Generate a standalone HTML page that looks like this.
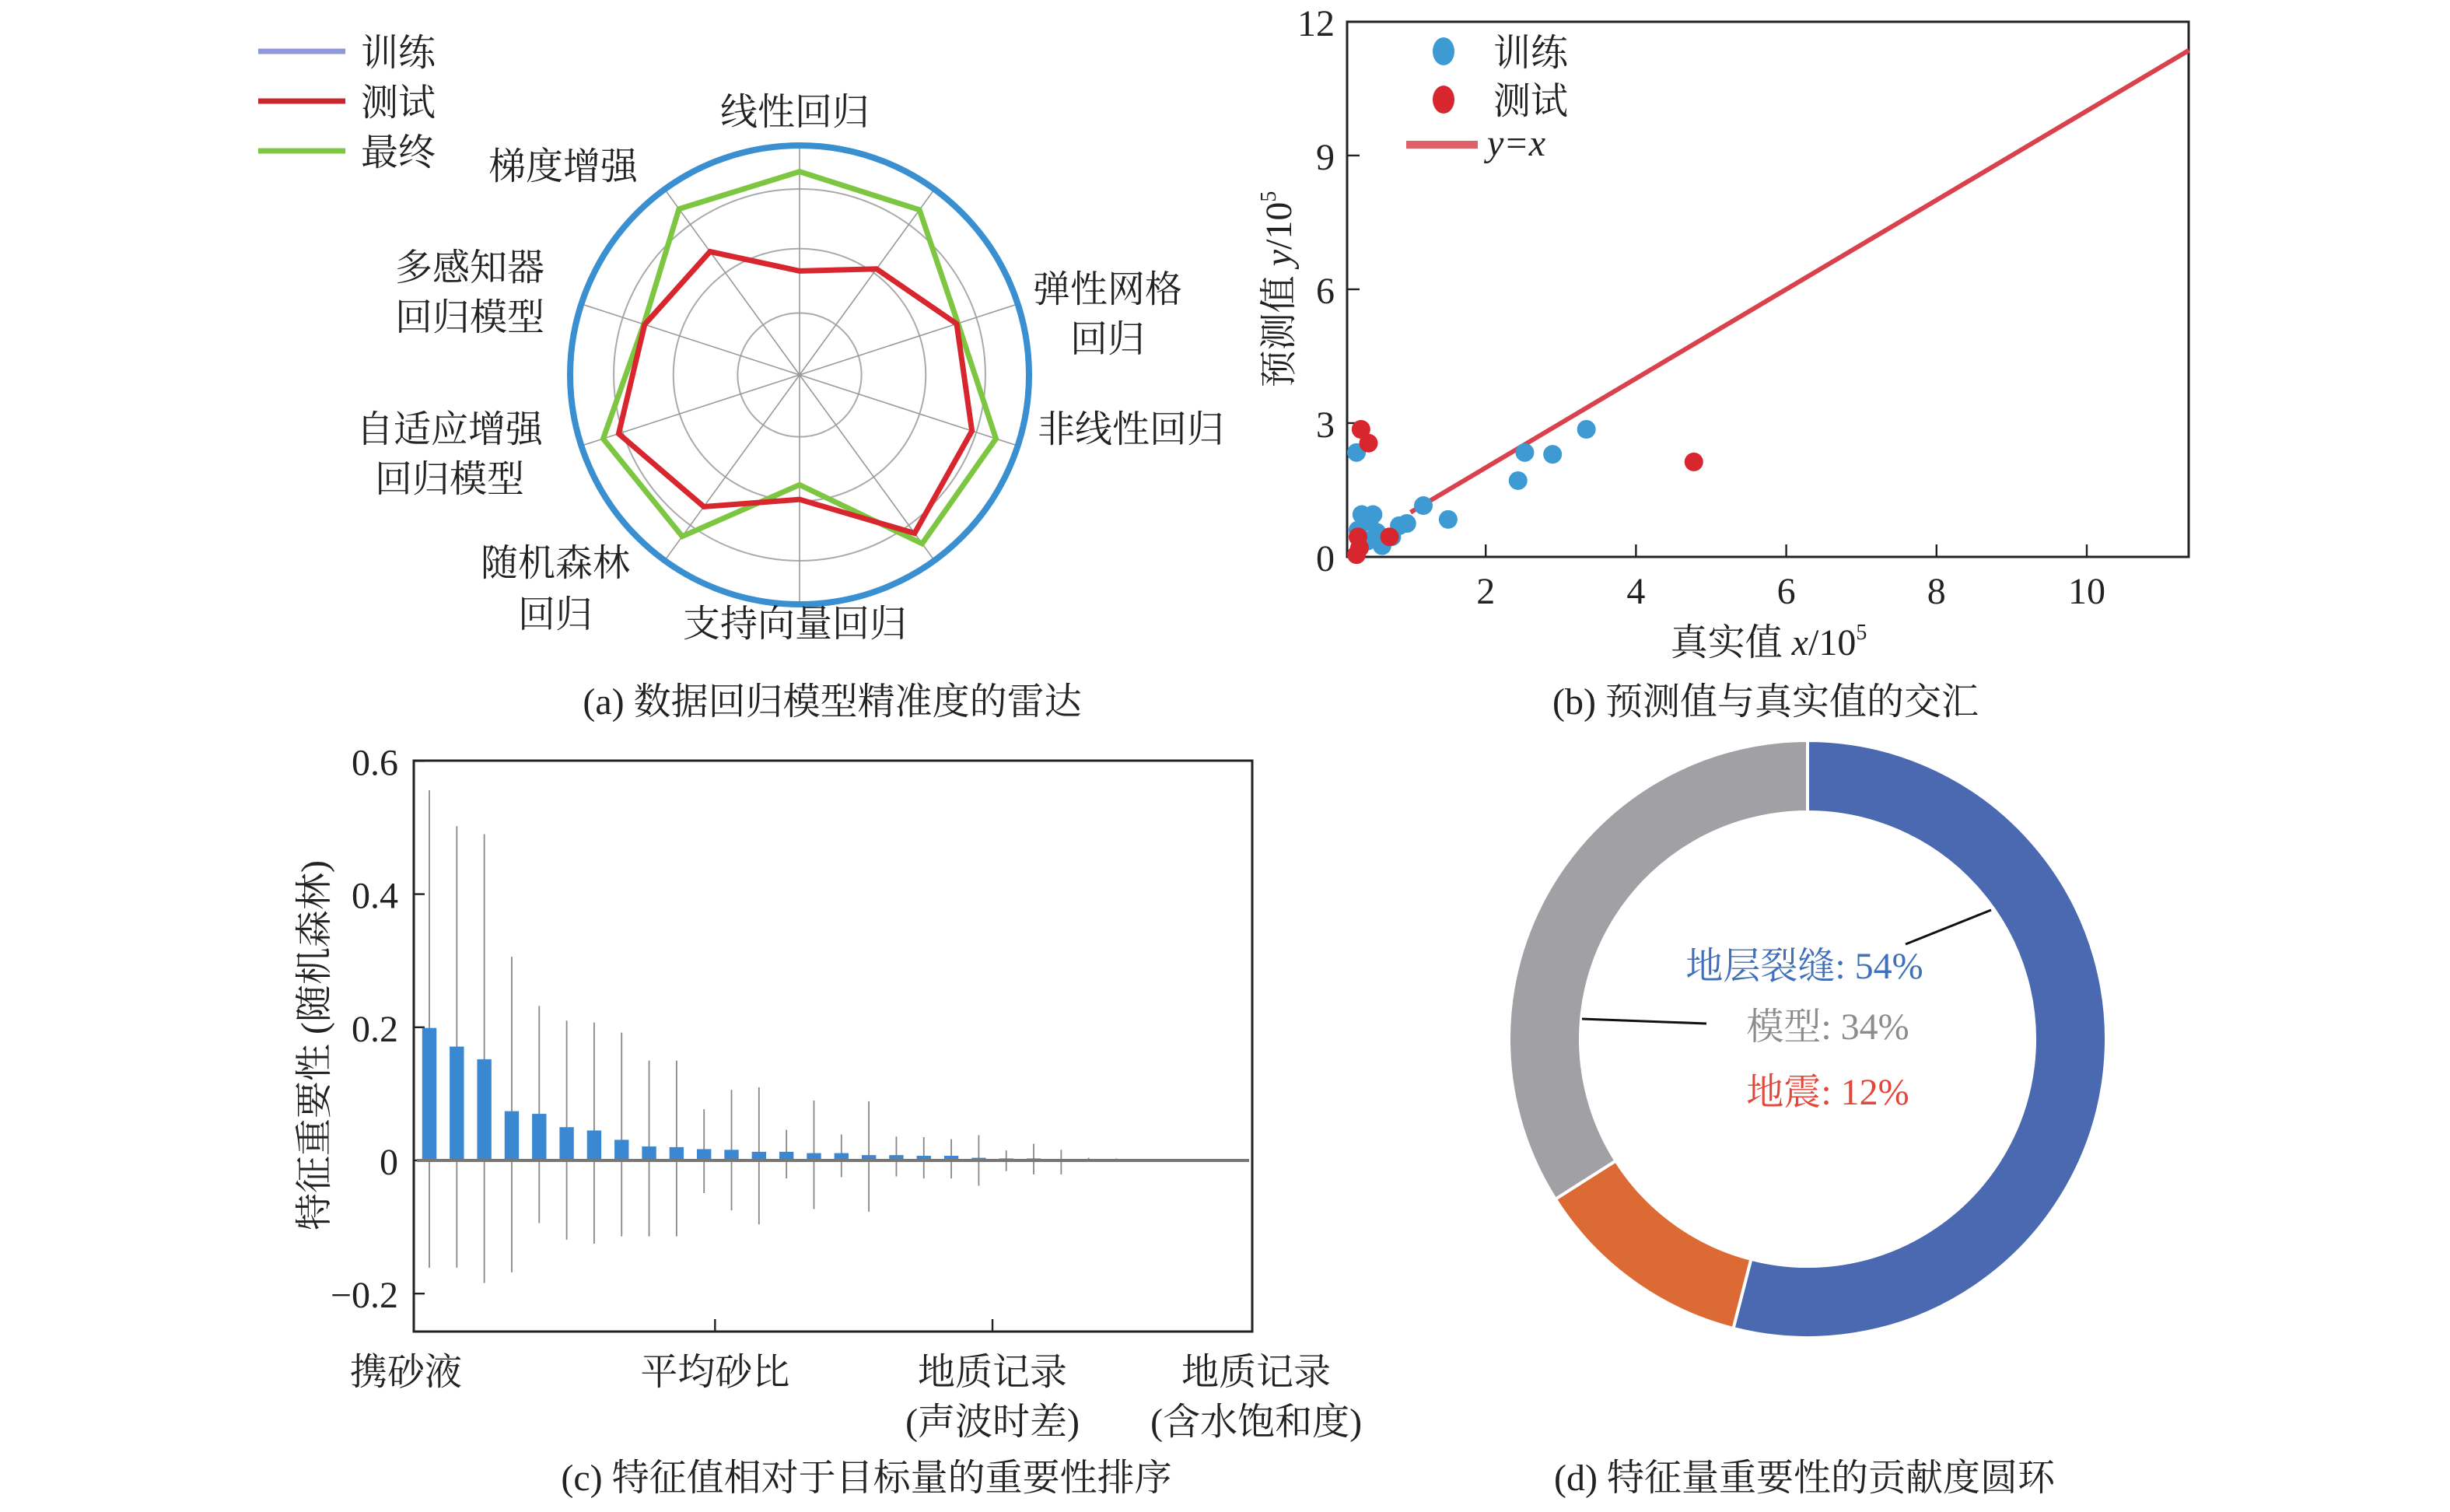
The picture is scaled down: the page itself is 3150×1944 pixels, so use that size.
<!DOCTYPE html>
<html><head><meta charset="utf-8">
<style>
html,body{margin:0;padding:0;background:#fff;}
svg{display:block;}
text{font-family:"Liberation Serif","Noto Serif CJK SC","Noto Sans CJK SC",serif;fill:#222;}
</style></head>
<body>
<svg id="fig" xmlns="http://www.w3.org/2000/svg" width="3150" height="1944" viewBox="0 0 1575 972">
<g id="pa"></g>
<g id="pb"></g>
<g id="pc"></g>
<g id="pd"></g>
</svg>
<script>
// ---------- data ----------
const radarTrain = [1,1,1,1,1,1,1,1,1,1];
const radarTest = [0.453,0.571,0.72,0.79,0.853,0.543,0.71,0.829,0.71,0.664];
const radarFinal = [0.886,0.889,0.726,0.90,0.909,0.479,0.87,0.90,0.714,0.894];

const trainX = [3.34,2.52,2.89,2.43,1.17,1.5,0.28,0.35,0.45,0.55,0.42,0.75,0.85,0.62,0.3,0.5,0.95];
const trainY = [2.86,2.34,2.3,1.71,1.15,0.84,2.34,0.95,0.8,0.55,0.35,0.45,0.7,0.25,0.6,0.95,0.75];
const testX = [0.34,0.44,4.77,0.72,0.3,0.32,0.28];
const testY = [2.86,2.55,2.13,0.45,0.45,0.2,0.05];

const barValues = [0.199,0.171,0.152,0.074,0.07,0.05,0.045,0.031,0.021,0.02,0.017,0.016,0.013,0.013,0.011,0.011,0.008,0.008,0.007,0.007,0.004,0.003,0.003,0.001,0.0005,0.0003,0.0002,0.0002,0.0001,0.0001];
const errUp = [0.556,0.502,0.49,0.306,0.232,0.21,0.207,0.192,0.15,0.15,0.077,0.106,0.11,0.046,0.09,0.039,0.089,0.036,0.035,0.032,0.038,0.015,0.025,0.016,0.004,0.003,0.002,0.002,0.001,0.001];
const errDown = [-0.161,-0.161,-0.184,-0.168,-0.094,-0.119,-0.125,-0.114,-0.114,-0.114,-0.049,-0.075,-0.096,-0.027,-0.073,-0.025,-0.077,-0.024,-0.027,-0.027,-0.038,-0.016,-0.021,-0.021,0,0,0,0,0,0];
const barTickLabels = [["携砂液"],["平均砂比"],["地质记录","(声波时差)"],["地质记录","(含水饱和度)"]];
const barTickIdx = [-0.85,10.4,20.5,30.1];

const donutLabels = ["地层裂缝","地震","模型"];
const donutValues = [54,12,34];

// ---------- helpers ----------
const NS="http://www.w3.org/2000/svg";
function mk(parent,tag,attrs,txt){const e=document.createElementNS(NS,tag);for(const k in attrs)e.setAttribute(k,attrs[k]);if(txt!==undefined)e.textContent=txt;parent.appendChild(e);return e;}

// ---------- (a) radar ----------
const pa=document.getElementById('pa');
const RCX=514,RCY=241,RR=147.5;
function rpt(i,v){const a=i*Math.PI*2/10;return [RCX+Math.sin(a)*v*RR,RCY-Math.cos(a)*v*RR];}
[0.27,0.55,0.81].forEach(f=>{const c=mk(pa,'circle',{cx:RCX,cy:RCY,r:f*RR,fill:'none',stroke:'#aaa','stroke-width':1});

});
for(let i=0;i<10;i++){const p=rpt(i,1);const l=mk(pa,'line',{x1:RCX,y1:RCY,x2:p[0],y2:p[1],stroke:'#999','stroke-width':0.8});

}
function poly(vals,color,w,name){const pts=vals.map((v,i)=>rpt(i,v).join(',')).join(' ');
const e=mk(pa,'polygon',{points:pts,fill:'none',stroke:color,'stroke-width':w,'stroke-linejoin':'miter'});

}
// training series: all equal values -> drawn as a circle of radius value*RR
const trainCircle=mk(pa,'circle',{cx:RCX,cy:RCY,r:radarTrain[0]*RR,fill:'none',stroke:'#3a8fd1','stroke-width':4});


poly(radarFinal,'#7dc642',3.5,'radar-final-series');
poly(radarTest,'#d8262f',3.5,'radar-test-series');
const radarLabels=[["线性回归",511,80],["梯度增强",362,115],["弹性网格",712,194],["回归",712,226],["非线性回归",727,284],["多感知器",302,180],["回归模型",302,212],["自适应增强",289,284],["回归模型",289,316],["随机森林",357,370],["回归",357,403],["支持向量回归",511,409]];
radarLabels.forEach(d=>{const t=mk(pa,'text',{x:d[1],y:d[2],'font-size':24,'text-anchor':'middle'},d[0]);

});
const leg=[["训练","#8f98dc",33],["测试","#c8252d",65],["最终","#7dc642",97]];
leg.forEach(d=>{const g=mk(pa,'g',{});


mk(g,'line',{x1:166,y1:d[2],x2:222,y2:d[2],stroke:d[1],'stroke-width':3.5});
mk(g,'text',{x:232,y:d[2]+9,'font-size':24},d[0]);});
const ca=mk(pa,'text',{x:535,y:459,'font-size':24,'text-anchor':'middle'},"(a) 数据回归模型精准度的雷达");



// ---------- (b) scatter ----------
const pb=document.getElementById('pb');
const BX0=866,BX1=1407,BY0=14,BY1=358;
function sx(v){return 858.5+v*48.3;}
function sy(v){return 358-v*28.67;}
const box=mk(pb,'rect',{x:BX0,y:BY0,width:BX1-BX0,height:BY1-BY0,fill:'none',stroke:'#222','stroke-width':1.5});


[2,4,6,8,10].forEach(v=>{mk(pb,'line',{x1:sx(v),y1:BY1,x2:sx(v),y2:BY1-8,stroke:'#222','stroke-width':1.2});
const t=mk(pb,'text',{x:sx(v),y:BY1+30,'font-size':24,'text-anchor':'middle'},String(v));

});
[0,3,6,9,12].forEach(v=>{mk(pb,'line',{x1:BX0,y1:sy(v),x2:BX0+8,y2:sy(v),stroke:'#222','stroke-width':1.2});
const t=mk(pb,'text',{x:BX0-8,y:sy(v)+9,'font-size':24,'text-anchor':'end'},String(v));

});
const fit=mk(pb,'line',{x1:sx(1),y1:sy(1),x2:sx(11.36),y2:sy(11.36),stroke:'#d9424c','stroke-width':3});


trainX.forEach((x,i)=>{const c=mk(pb,'circle',{cx:sx(x),cy:sy(trainY[i]),r:6,fill:'#3e9ad3'});

});
testX.forEach((x,i)=>{const c=mk(pb,'circle',{cx:sx(x),cy:sy(testY[i]),r:6,fill:'#d8262f'});

});
[["训练",'#3e9ad3',33],["测试",'#d8262f',64]].forEach(d=>{const g=mk(pb,'g',{});


mk(g,'ellipse',{cx:928,cy:d[2],rx:7,ry:9,fill:d[1]});
mk(g,'text',{x:960,y:d[2]+9,'font-size':24},d[0]);});
const lg3=mk(pb,'g',{});


mk(lg3,'line',{x1:904,y1:93,x2:950,y2:93,stroke:'#e0606a','stroke-width':5});
mk(lg3,'text',{x:956,y:100,'font-size':24,'font-style':'italic'},"y=x");
const xl=mk(pb,'text',{x:1137,y:421,'font-size':24,'text-anchor':'middle'});


xl.innerHTML='真实值 <tspan font-style="italic">x</tspan>/10<tspan font-size="14" dy="-10">5</tspan>';
const yl=mk(pb,'text',{x:0,y:0,'font-size':24,'text-anchor':'middle',transform:'translate(830,186) rotate(-90)'});


yl.innerHTML='预测值 <tspan font-style="italic">y</tspan>/10<tspan font-size="14" dy="-10">5</tspan>';
const cb=mk(pb,'text',{x:1135,y:459,'font-size':24,'text-anchor':'middle'},"(b) 预测值与真实值的交汇");



// ---------- (c) bars ----------
const pc=document.getElementById('pc');
const CX0=266,CX1=805,CY0=489,CY1=856;
function cy(v){return 746-v*428;}
function cx(i){return 276+i*17.66;}
const cf=mk(pc,'rect',{x:CX0,y:CY0,width:CX1-CX0,height:CY1-CY0,fill:'none',stroke:'#222','stroke-width':1.5});


[0.6,0.4,0.2,0,-0.2].forEach(v=>{mk(pc,'line',{x1:CX0,y1:cy(v),x2:CX0+7,y2:cy(v),stroke:'#222','stroke-width':1.2});
const t=mk(pc,'text',{x:CX0-10,y:cy(v)+9,'font-size':24,'text-anchor':'end'},v<0?'\u22120.2':String(v));

});
barValues.forEach((v,i)=>{
const e=mk(pc,'line',{x1:cx(i),y1:cy(errUp[i]),x2:cx(i),y2:cy(errDown[i]),stroke:'#888','stroke-width':0.9});


const b=mk(pc,'rect',{x:cx(i)-4.6,y:cy(v),width:9.2,height:Math.max(0,cy(0)-cy(v)),fill:'#3b88d2'});

});
const zl=mk(pc,'line',{x1:CX0+2,y1:cy(0),x2:CX1-2,y2:cy(0),stroke:'#777','stroke-width':2});


barTickIdx.forEach((ix,k)=>{const x=cx(ix);
if(k>0&&k<3)mk(pc,'line',{x1:x,y1:CY1,x2:x,y2:CY1-8,stroke:'#222','stroke-width':1.2});
barTickLabels[k].forEach((s,j)=>{const t=mk(pc,'text',{x:x,y:CY1+34+j*32,'font-size':24,'text-anchor':'middle'},s);

});});
const cyl=mk(pc,'text',{x:0,y:0,'font-size':24,'text-anchor':'middle',transform:'translate(210,672) rotate(-90)'},"特征重要性 (随机森林)");


const cc=mk(pc,'text',{x:557,y:958,'font-size':24,'text-anchor':'middle'},"(c)  特征值相对于目标量的重要性排序");



// ---------- (d) donut ----------
const pd=document.getElementById('pd');
const DX=1162,DY=668,RO=192,RI=146;
const dcol=['#4a69b1','#dc6a34','#a1a1a5'];
let acc=0;const tot=donutValues.reduce((a,b)=>a+b,0);
function dp(a,r){return [DX+Math.sin(a)*r,DY-Math.cos(a)*r];}
donutValues.forEach((v,i)=>{const a0=acc/tot*2*Math.PI;acc+=v;const a1=acc/tot*2*Math.PI;const lg=(a1-a0)>Math.PI?1:0;
const p0=dp(a0,RO),p1=dp(a1,RO),q1=dp(a1,RI),q0=dp(a0,RI);
const s=mk(pd,'path',{d:`M${p0} A${RO},${RO} 0 ${lg} 1 ${p1} L${q1} A${RI},${RI} 0 ${lg} 0 ${q0} Z`,fill:dcol[i],stroke:'#fff','stroke-width':2});

});
mk(pd,'line',{x1:1280,y1:585,x2:1225,y2:607,stroke:'#111','stroke-width':1.5});
mk(pd,'line',{x1:1017,y1:655,x2:1097,y2:658,stroke:'#111','stroke-width':1.5});
[[0,'#3f70b9',1160,629],[2,'#8c8c8c',1175,668],[1,'#e3463b',1175,710]].forEach(d=>{
const t=mk(pd,'text',{x:d[2],y:d[3],'font-size':24,'text-anchor':'middle',fill:d[1]},donutLabels[d[0]]+': '+donutValues[d[0]]+'%');
t.setAttribute('fill',d[1]);t.style.fill=d[1];

});
const cd=mk(pd,'text',{x:1160,y:958,'font-size':24,'text-anchor':'middle'},"(d) 特征量重要性的贡献度圆环");


</script>
</body></html>
